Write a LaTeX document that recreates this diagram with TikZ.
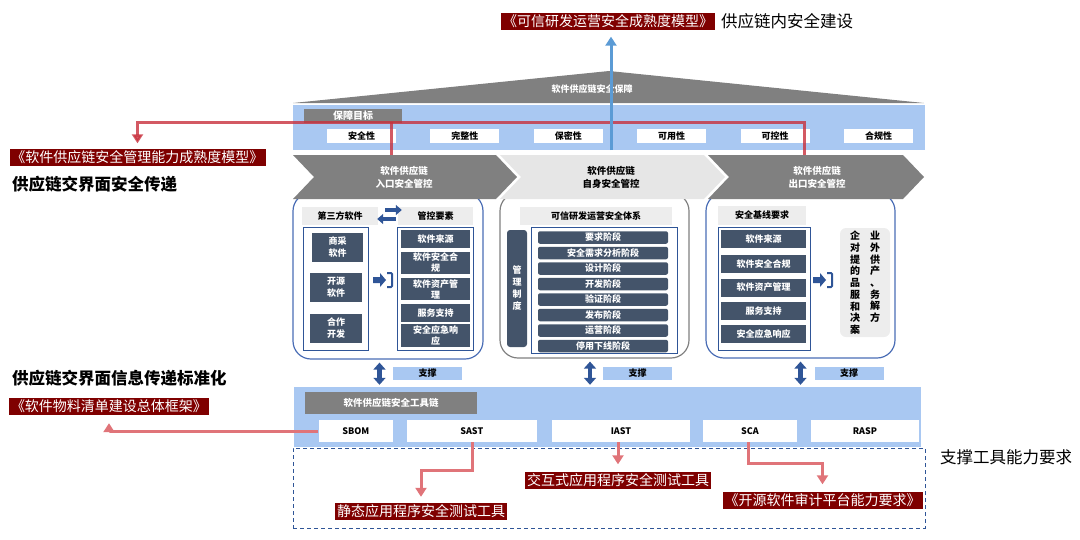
\documentclass[tikz,border=0pt]{standalone}
\usepackage{fontspec}
\setmainfont{Noto Sans CJK SC}
\usetikzlibrary{arrows.meta}
\usetikzlibrary{calc}
\definecolor{bandblue}{HTML}{A9C8F2}
\definecolor{roofgray}{HTML}{808080}
\definecolor{chevlight}{HTML}{E6E6E6}
\definecolor{headgray}{HTML}{EDEDED}
\definecolor{boxdark}{HTML}{44546A}
\definecolor{iconblue}{HTML}{2F5597}
\definecolor{panelblue}{HTML}{4A6DB5}
\definecolor{arrowblue}{HTML}{5B9BD5}
\definecolor{labelred}{HTML}{7F0000}
\definecolor{linered}{HTML}{C8303C}
\definecolor{linepink}{HTML}{E07479}

\tikzset{
  darkbox/.style={fill=boxdark, text=white, font=\bfseries\fontsize{9}{11}\selectfont, align=center, inner sep=0pt},
  headbox/.style={fill=headgray, font=\bfseries\fontsize{9}{11}\selectfont, inner sep=0pt},
  whitebox/.style={fill=white, font=\bfseries\fontsize{9}{11}\selectfont, inner sep=0pt, minimum height=14},
  graybox/.style={fill=roofgray, text=white, font=\bfseries\fontsize{9.5}{11}\selectfont, inner sep=0pt},
  bluebox/.style={fill=bandblue, font=\bfseries\fontsize{9}{11}\selectfont, inner sep=0pt},
  outlinebox/.style={draw=iconblue, line width=0.8pt, inner sep=0pt},
  panelbox/.style={draw=panelblue, line width=1.2pt, rounded corners=18pt, inner sep=0pt},
  chevtext/.style={font=\bfseries\fontsize{9.5}{13}\selectfont, align=center, inner sep=0pt},
  coltext/.style={font=\bfseries\fontsize{10}{11.7}\selectfont, align=center, inner sep=0pt},
  redlabel/.style={fill=labelred, text=white, font=\fontsize{14}{16}\selectfont, inner xsep=2pt, inner ysep=1pt, minimum height=17},
  bigtext/.style={font=\fontsize{16.5}{18}\selectfont, inner sep=0pt, anchor=west},
  redline/.style={draw=linered, opacity=0.8, line width=3pt, -{Triangle[length=9pt,width=11pt]}},
  pinkline/.style={draw=linepink, line width=3pt, -{Triangle[length=9pt,width=11pt]}},
  bluearrow/.style={draw=arrowblue, line width=3pt, -{Triangle[length=9pt,width=11pt]}},
  dblarrow/.style={draw=iconblue, line width=4.5pt, {Triangle[length=7pt,width=12pt]}-{Triangle[length=7pt,width=12pt]}},
  swaparrow/.style={draw=iconblue, line width=4pt, -{Triangle[length=6pt,width=10pt]}},
}

\begin{document}
\begin{tikzpicture}[x=1pt, y=-1pt]
\useasboundingbox (0,0) rectangle (1080,539);

% labels round the model
\node[redlabel] (toplbl) at (608,21) {《可信研发运营安全成熟度模型》};
\node[bigtext] (toptxt) at (721,21) {供应链内安全建设};
\node[redlabel] (mgmtlbl) at (137.5,157) {《软件供应链安全管理能力成熟度模型》};
\node[bigtext, font=\bfseries\fontsize{16.5}{18}\selectfont] (xfertxt) at (12,184) {供应链交界面安全传递};
\node[bigtext, font=\bfseries\fontsize{16.5}{18}\selectfont] (stdtxt) at (12,378) {供应链交界面信息传递标准化};
\node[redlabel] (sbomlbl) at (109,406.5) {《软件物料清单建设总体框架》};

% roof and goals
\fill[roofgray] (293,103) -- (609,71) -- (924,103) -- cycle;
\node[font=\bfseries\fontsize{9}{11}\selectfont, text=white] (rooftxt) at (592,89) {软件供应链安全保障};
\node[fill=bandblue, minimum width=632, minimum height=45, inner sep=0pt] (goalband) at (608.5,127.5) {};
\node[graybox, font=\bfseries\fontsize{10}{11}\selectfont, minimum width=98, minimum height=14] (goalhd) at (353,116) {保障目标};
\foreach \nm [count=\i] in {安全性,完整性,保密性,可用性,可控性,合规性}
{
    \node[whitebox, minimum width=69] (goal\i) at (258.1+103.4*\i,136) {\nm};
}

% panels
\node[panelbox, minimum width=190, minimum height=166] (panA) at (388,276) {};
\node[panelbox, draw=roofgray, minimum width=189, minimum height=165] (panB) at (594.5,275.5) {};
\node[panelbox, minimum width=189, minimum height=165] (panC) at (800.5,275.5) {};

% chevrons
\fill[roofgray] (293,155) -- (496,155) -- (517,177) -- (496,199) -- (293,199) -- (314,177) -- cycle;
\fill[chevlight] (500,155) -- (704,155) -- (725,177) -- (704,199) -- (500,199) -- (521,177) -- cycle;
\fill[roofgray] (708,155) -- (903,155) -- (924,177) -- (903,199) -- (708,199) -- (729,177) -- cycle;
\node[chevtext, text=white] (chevA) at (404,177) {软件供应链\\入口安全管控};
\node[chevtext] (chevB) at (611,177) {软件供应链\\自身安全管控};
\node[chevtext, text=white] (chevC) at (817,177) {软件供应链\\出口安全管控};

% red bracket to the management model
\coordinate (inA) at (391,155);
\coordinate (inC) at (804,155);
\coordinate (bar) at (0,122);
\draw[redline, -] (inA) -- (inA |- bar);
\draw[redline, shorten >=5pt] (inC) -- (inC |- bar) -- (bar -| mgmtlbl.north) -- (mgmtlbl.north);

% blue arrow up
\coordinate (blueBase) at (611,150);
\draw[bluearrow, shorten >=7pt] (blueBase) -- (blueBase |- toplbl.south);

% panel A: entry
\node[headbox, minimum width=76, minimum height=18] (thirdhd) at (340,216) {第三方软件};
\node[headbox, minimum width=75, minimum height=18] (ctrlhd) at (435.5,216) {管控要素};
\draw[swaparrow] ([xshift=7pt,yshift=6pt]thirdhd.east) -- ([xshift=4pt,yshift=6pt]ctrlhd.west);
\draw[swaparrow] ([xshift=-2pt,yshift=-3pt]ctrlhd.west) -- ([xshift=-1pt,yshift=-3pt]thirdhd.east);
\node[outlinebox, minimum width=65, minimum height=123] (srcframe) at (335.5,288.5) {};
\node[darkbox, minimum width=51, minimum height=29, font=\bfseries\fontsize{9}{12}\selectfont] (buysw) at (337.5,247.5) {商采\\软件};
\node[darkbox, minimum width=52, minimum height=29, font=\bfseries\fontsize{9}{12}\selectfont] (ossw) at (336,287.5) {开源\\软件};
\node[darkbox, minimum width=52, minimum height=29, font=\bfseries\fontsize{9}{12}\selectfont] (partsw) at (336,328.5) {合作\\开发};
\node[outlinebox, minimum width=76, minimum height=123] (ctrlframe) at (435,288.5) {};
\node[darkbox, minimum width=69, minimum height=18] (ctrl1) at (435.5,239) {软件来源};
\node[darkbox, minimum width=69, minimum height=22] (ctrl2) at (435.5,263) {软件安全合\\规};
\node[darkbox, minimum width=69, minimum height=22] (ctrl3) at (435.5,289) {软件资产管\\理};
\node[darkbox, minimum width=69, minimum height=18] (ctrl4) at (435.5,313) {服务支持};
\node[darkbox, minimum width=69, minimum height=23] (ctrl5) at (435.5,335.5) {安全应急响\\应};

% enter icons
\foreach \ix/\iy in {373/272, 813/272}
{
    \begin{scope}[shift={(\ix,\iy)}]
        \fill[iconblue] (0,5) -- (7,5) -- (7,1) -- (13,8) -- (7,15) -- (7,11) -- (0,11) -- cycle;
        \draw[iconblue, line width=2pt, rounded corners=1pt] (14,1) -- (19,1) -- (19,15) -- (14,15);
    \end{scope}
}

% panel B: own control
\node[headbox, minimum width=152, minimum height=18] (devhd) at (596,216) {可信研发运营安全体系};
\node[darkbox, rounded corners=3pt, minimum width=20, minimum height=117, font=\bfseries\fontsize{9}{12}\selectfont] (policy) at (517,288.5) {管\\理\\制\\度};
\node[outlinebox, minimum width=146, minimum height=126] (phaseframe) at (604,290) {};
\foreach \nm [count=\i] in {要求阶段,安全需求分析阶段,设计阶段,开发阶段,验证阶段,发布阶段,运营阶段,停用下线阶段}
{
    \node[darkbox, rounded corners=2pt, minimum width=130, minimum height=12.5] (phase\i) at (603,222+15.5*\i) {\nm};
}

% panel C: exit
\node[headbox, minimum width=88, minimum height=19] (basehd) at (762,215) {安全基线要求};
\node[outlinebox, minimum width=92, minimum height=123] (baseframe) at (764,288.5) {};
\foreach \nm/\yy [count=\i] in {软件来源/239, 软件安全合规/264, 软件资产管理/287.5, 服务支持/311, 安全应急响应/334}
{
    \node[darkbox, minimum width=85, minimum height=18] (base\i) at (763.5,\yy) {\nm};
}
\node[headbox, rounded corners=6pt, minimum width=50, minimum height=109] (bizbox) at (865,282.5) {};
\node[coltext, anchor=north] (bizR) at (875,231) {业\\外\\供\\产\\、\\务\\解\\方};
\node[coltext, anchor=north] (bizL) at (855,231) {企\\对\\提\\的\\品\\服\\和\\决\\案};

% tool chain
\node[fill=bandblue, minimum width=627, minimum height=60, inner sep=0pt] (toolband) at (607.5,417) {};
\draw[dblarrow, shorten <=3pt, shorten >=2pt] ([xshift=-8.5pt]panA.south) -- ([xshift=-8.5pt]panA.south |- toolband.north);
\draw[dblarrow, shorten <=3pt, shorten >=2pt] ([xshift=-4.5pt]panB.south) -- ([xshift=-4.5pt]panB.south |- toolband.north);
\draw[dblarrow, shorten <=3pt, shorten >=2pt] (panC.south) -- (panC.south |- toolband.north);
\node[bluebox, minimum width=69, minimum height=13] (supA) at (427.5,373.5) {支撑};
\node[bluebox, minimum width=69, minimum height=13] (supB) at (637.5,373.5) {支撑};
\node[bluebox, minimum width=69, minimum height=13] (supC) at (849,373.5) {支撑};
\node[graybox, minimum width=172, minimum height=22] (chainhd) at (391,403) {软件供应链安全工具链};
\node[whitebox, minimum width=74.5, minimum height=22] (sbom) at (355.75,431) {SBOM};
\node[whitebox, minimum width=130.5, minimum height=22] (sast) at (471.75,431) {SAST};
\node[whitebox, minimum width=138, minimum height=22] (iast) at (621,431) {IAST};
\node[whitebox, minimum width=94, minimum height=22] (sca) at (750,431) {SCA};
\node[whitebox, minimum width=108, minimum height=22] (rasp) at (865,431) {RASP};

% tool requirements
\node[draw=iconblue, line width=1pt, dash pattern=on 4pt off 3pt, minimum width=632, minimum height=80, inner sep=0pt] (reqframe) at (609,488) {};
\node[bigtext] (reqtxt) at (940,457) {支撑工具能力要求};
\node[redlabel] (sastlbl) at (421,511.5) {静态应用程序安全测试工具};
\node[redlabel] (iastlbl) at (618,480) {交互式应用程序安全测试工具};
\node[redlabel] (scalbl) at (822.5,500) {《开源软件审计平台能力要求》};
\draw[pinkline, shorten >=8pt] (sbom.west) -| (sbomlbl.south);
\draw[pinkline, shorten >=6pt] ([xshift=1pt]sast.south) -- ++(0,28) -| (sastlbl.north);
\draw[pinkline, shorten >=7pt] ([xshift=-3pt]iast.south) -- ([xshift=-3pt]iast.south |- iastlbl.north);
\draw[pinkline, shorten >=7pt] ([xshift=-2pt]sca.south) -- ++(0,21) -| (scalbl.north);
\end{tikzpicture}
\end{document}
